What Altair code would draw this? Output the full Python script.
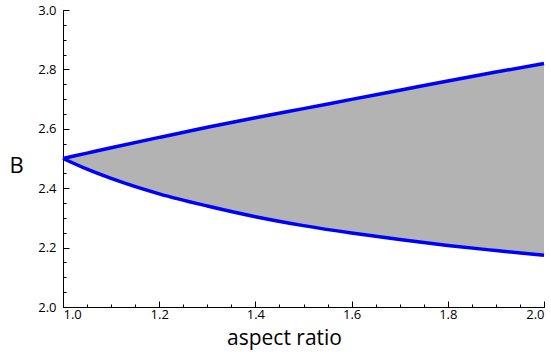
import altair as alt
import pandas as pd

aspect = [1.0, 1.05, 1.1, 1.2, 1.3, 1.4, 1.5, 1.6, 1.7, 1.8, 1.9, 2.0]
upper = [2.5, 2.518, 2.536, 2.571, 2.605, 2.637, 2.668, 2.699, 2.730, 2.761, 2.791, 2.820]
lower = [2.5, 2.464, 2.433, 2.381, 2.340, 2.304, 2.274, 2.249, 2.227, 2.207, 2.190, 2.174]

major_x = [1.0, 1.2, 1.4, 1.6, 1.8, 2.0]
major_y = [2.0, 2.2, 2.4, 2.6, 2.8, 3.0]
minor_x = [round(1.0 + 0.05 * i, 2) for i in range(21)]
minor_y = [round(2.0 + 0.05 * i, 2) for i in range(21)]

df = pd.DataFrame({"aspect": aspect, "upper": upper, "lower": lower})

FONT = "Open Sans"
W, H = 481, 297
xs = alt.Scale(domain=[1.0, 2.0], nice=False, zero=False)
ys = alt.Scale(domain=[2.0, 3.0], nice=False, zero=False)

base = alt.Chart(df)

area = base.mark_area(color="#b3b3b3", opacity=1, interpolate="monotone").encode(
    x=alt.X("aspect:Q", scale=xs,
            axis=alt.Axis(orient="bottom", values=major_x, format=".1f", ticks=False,
                          grid=False, domainColor="black", domainWidth=1,
                          labelFont=FONT, labelFontSize=13, labelColor="black",
                          labelPadding=1, title="aspect ratio", titleFont=FONT,
                          titleFontSize=21, titleFontWeight="normal", titleColor="black",
                          titleX=221, titleY=37, titleAlign="center",
                          titleBaseline="alphabetic")),
    y=alt.Y("upper:Q", scale=ys,
            axis=alt.Axis(orient="left", values=major_y, format=".1f", ticks=False,
                          grid=False, domainColor="black", domainWidth=1,
                          labelFont=FONT, labelFontSize=13, labelColor="black",
                          labelPadding=7, title="B", titleFont=FONT,
                          titleFontSize=22, titleFontWeight="normal", titleColor="black",
                          titleAngle=0, titleX=-47, titleY=162, titleAlign="center",
                          titleBaseline="alphabetic")),
    y2="lower:Q",
)

up = base.mark_line(color="#0000ff", strokeWidth=3.5, interpolate="monotone").encode(
    x=alt.X("aspect:Q", scale=xs,
            axis=alt.Axis(orient="top", offset=-H, values=major_x, labels=False,
                          domain=False, grid=False, ticks=True, tickSize=6,
                          tickColor="black", tickWidth=1, title=None)),
    y=alt.Y("upper:Q", scale=ys,
            axis=alt.Axis(orient="right", offset=-W, values=major_y, labels=False,
                          domain=False, grid=False, ticks=True, tickSize=6,
                          tickColor="black", tickWidth=1, title=None)),
)

lo = base.mark_line(color="#0000ff", strokeWidth=3.5, interpolate="monotone").encode(
    x=alt.X("aspect:Q", scale=xs,
            axis=alt.Axis(orient="top", offset=-H, values=minor_x, labels=False,
                          domain=False, grid=False, ticks=True, tickSize=3,
                          tickColor="black", tickWidth=1, title=None)),
    y=alt.Y("lower:Q", scale=ys,
            axis=alt.Axis(orient="right", offset=-W, values=minor_y, labels=False,
                          domain=False, grid=False, ticks=True, tickSize=3,
                          tickColor="black", tickWidth=1, title=None)),
)

chart = alt.layer(area, up, lo).resolve_axis(x="independent", y="independent").properties(
    width=W, height=H,
    autosize=alt.AutoSizeParams(type="none"),
    padding={"left": 63, "top": 10, "right": 7, "bottom": 51},
    background="white",
).configure_view(stroke=None)

chart.save("out.html", embed_options={"renderer": "svg", "actions": False})
